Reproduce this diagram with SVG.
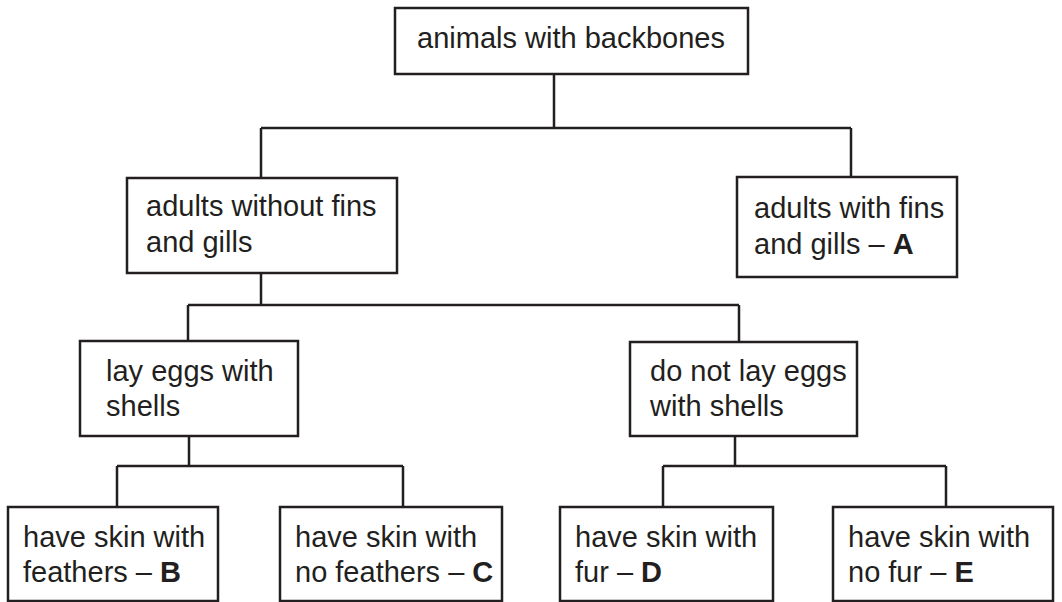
<svg xmlns="http://www.w3.org/2000/svg" width="1062" height="602" viewBox="0 0 1062 602">
<style>
.box{fill:#fff;stroke:#231f20;stroke-width:2.5}
.ln{fill:none;stroke:#231f20;stroke-width:2.5}
text{font-family:"Liberation Sans",Arial,sans-serif;font-size:29px;fill:#231f20}
.b{font-weight:bold}
</style>
<rect width="1062" height="602" fill="#fff"/>
<g id="connectors">
<path class="ln" d="M554 74V128M261 128H851M261 128V178M851 128V177"/>
<path class="ln" d="M261 273V305M188 305H739M188 305V341M739 305V342"/>
<path class="ln" d="M189 436V466M117 466H403M117 466V507M403 466V507"/>
<path class="ln" d="M735 436V466M663 466H946M663 466V507M946 466V507"/>
</g>
<g id="n_top"><rect class="box" x="395" y="8" width="353" height="66"/><text x="571" y="48" text-anchor="middle">animals with backbones</text></g>
<g id="n_without"><rect class="box" x="127" y="178" width="270" height="95"/><text x="146" y="216">adults without fins</text><text x="146" y="252">and gills</text></g>
<g id="n_A"><rect class="box" x="737" y="177" width="220" height="100"/><text x="754" y="218">adults with fins</text><text x="754" y="254">and gills – <tspan class="b">A</tspan></text></g>
<g id="n_lay"><rect class="box" x="80" y="341" width="218" height="95"/><text x="106" y="381">lay eggs with</text><text x="106" y="416">shells</text></g>
<g id="n_notlay"><rect class="box" x="630" y="342" width="227" height="94"/><text x="650" y="381">do not lay eggs</text><text x="650" y="416">with shells</text></g>
<g id="n_B"><rect class="box" x="8" y="507" width="210" height="94"/><text x="23" y="547">have skin with</text><text x="23" y="582">feathers – <tspan class="b">B</tspan></text></g>
<g id="n_C"><rect class="box" x="280" y="507" width="222" height="94"/><text x="295" y="547">have skin with</text><text x="295" y="582">no feathers – <tspan class="b">C</tspan></text></g>
<g id="n_D"><rect class="box" x="560" y="507" width="213" height="94"/><text x="575" y="547">have skin with</text><text x="575" y="582">fur – <tspan class="b">D</tspan></text></g>
<g id="n_E"><rect class="box" x="833" y="507" width="220" height="94"/><text x="848" y="547">have skin with</text><text x="848" y="582">no fur – <tspan class="b">E</tspan></text></g>
</svg>
